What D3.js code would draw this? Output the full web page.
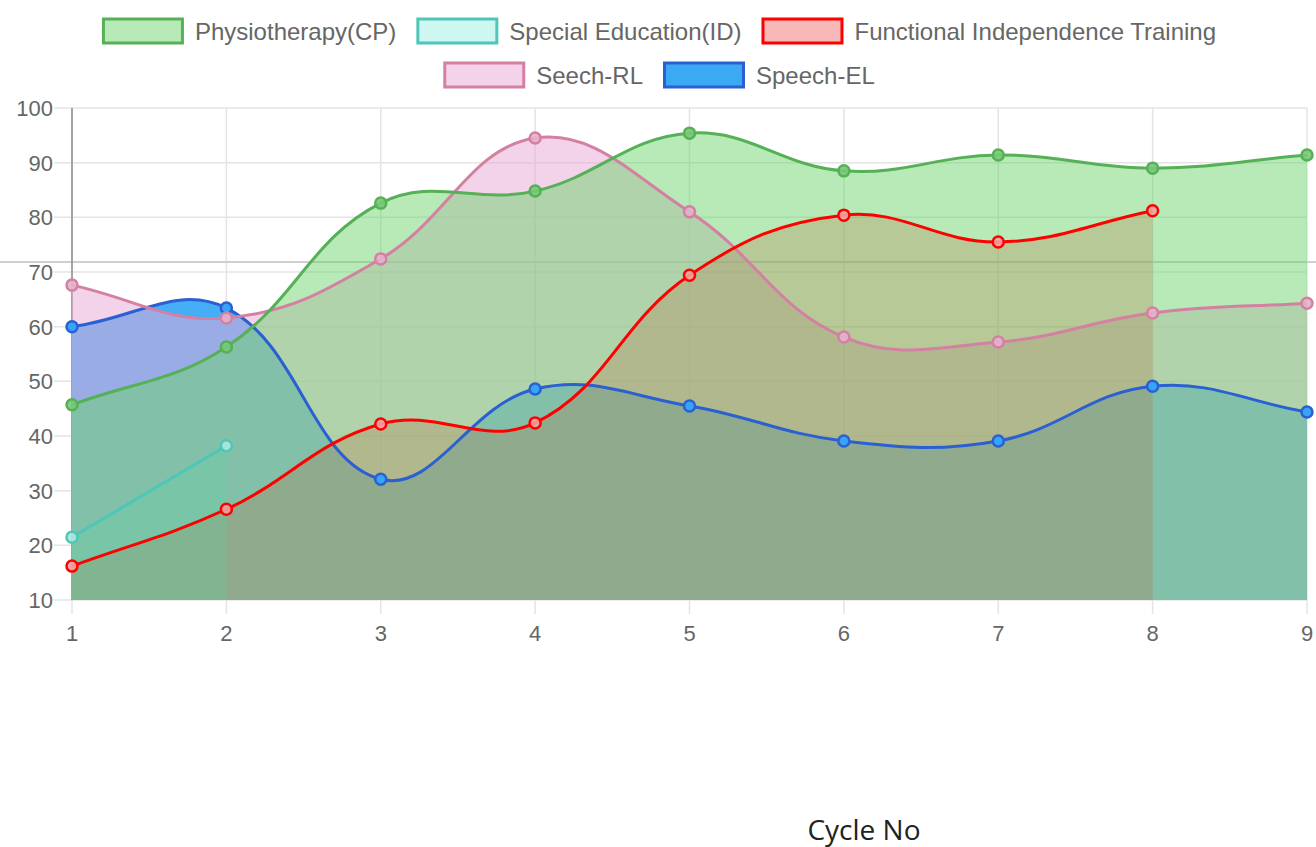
<!DOCTYPE html>
<html>
<head>
<meta charset="utf-8">
<script src="https://cdn.jsdelivr.net/npm/d3@7"></script>
<style>
	body { margin:0; background:#ffffff; }
	svg { display:block; }
</style>
</head>
<body>
<div id="Main_Part"></div>
<script>
// chart values
var CycleNo = [1,2,3,4,5,6,7,8,9];
var YTicks = [10,20,30,40,50,60,70,80,90,100];
var Physiotherapy = [45.7,56.3,82.6,84.8,95.4,88.5,91.4,89.0,91.4];
var SpecialEducation = [21.5,38.2];
var FunctionalTraining = [16.2,26.6,42.2,42.4,69.4,80.4,75.5,81.2];
var SeechRL = [67.6,61.6,72.4,94.5,81.0,58.1,57.2,62.5,64.3];
var SpeechEL = [60.0,63.4,32.1,48.6,45.5,39.1,39.1,49.1,44.4];
var SeriesNames = ["Physiotherapy(CP)","Special Education(ID)","Functional Independence Training","Seech-RL","Speech-EL"];

var Width = 1316, Height = 847;
var FontTick = 22, FontLegend = 24;
var TextGrey = "#666666";

var SeriesStyle = [
	{line:"rgb(86,176,86)", fill:"rgba(108,212,108,0.49)", box:"rgb(183,234,183)", point:"rgba(120,200,120,0.9)"},
	{line:"rgb(78,198,184)", fill:"rgba(64,224,208,0.25)", box:"rgb(206,247,242)", point:"rgba(170,232,222,0.9)"},
	{line:"rgb(255,0,0)", fill:"rgba(255,0,0,0.25)", box:"rgb(248,184,184)", point:"rgba(245,160,160,0.9)"},
	{line:"rgb(212,128,162)", fill:"rgba(232,170,215,0.52)", box:"rgb(243,210,234)", point:"rgba(228,176,205,0.9)"},
	{line:"rgb(42,96,210)", fill:"rgba(59,170,245,0.95)", box:"rgb(59,170,245)", point:"rgb(54,165,248)"}
];
var SeriesData = [Physiotherapy,SpecialEducation,FunctionalTraining,SeechRL,SpeechEL];

var X = d3.scaleLinear().domain([1,9]).range([72,1307]);
var Y = d3.scaleLinear().domain([10,100]).range([600,108]);

var Svg = d3.select('#Main_Part')
	.append("svg")
	.attr("width",Width)
	.attr("height",Height)
	.style("font-family","'Liberation Sans', Arial, sans-serif");

// Chart.js style spline (tension 0.4)
function SplinePath(Values, Closed)
{
	var Pts = Values.map(function(v,i){ return {x:X(CycleNo[i]), y:Y(v)}; });
	var T = 0.4;
	Pts.forEach(function(p,i){
		var prev = Pts[i-1] || p, next = Pts[i+1] || p;
		var d01 = Math.hypot(p.x-prev.x,p.y-prev.y);
		var d12 = Math.hypot(next.x-p.x,next.y-p.y);
		var s01 = d01/(d01+d12), s12 = d12/(d01+d12);
		if(isNaN(s01)) s01 = 0;
		if(isNaN(s12)) s12 = 0;
		var fa = T*s01, fb = T*s12;
		p.cpx0 = p.x - fa*(next.x-prev.x);
		p.cpy0 = Math.min(600,Math.max(108,p.y - fa*(next.y-prev.y)));
		p.cpx1 = p.x + fb*(next.x-prev.x);
		p.cpy1 = Math.min(600,Math.max(108,p.y + fb*(next.y-prev.y)));
	});
	var P = d3.path();
	P.moveTo(Pts[0].x,Pts[0].y);
	for(var i=1;i<Pts.length;i++)
	{
		P.bezierCurveTo(Pts[i-1].cpx1,Pts[i-1].cpy1,Pts[i].cpx0,Pts[i].cpy0,Pts[i].x,Pts[i].y);
	}
	if(Closed)
	{
		P.lineTo(Pts[Pts.length-1].x,Y(10));
		P.lineTo(Pts[0].x,Y(10));
		P.closePath();
	}
	return P.toString();
}

// grid
var Grid = Svg.append("g");
Grid.selectAll(".ygrid")
	.data(YTicks)
	.enter()
	.append("line")
	.attr("x1",54)
	.attr("x2",X(9))
	.attr("y1",function(d){ return Y(d); })
	.attr("y2",function(d){ return Y(d); })
	.style("stroke","#e4e4e4")
	.style("stroke-width",1.5);

Grid.selectAll(".xgrid")
	.data(CycleNo)
	.enter()
	.append("line")
	.attr("x1",function(d){ return X(d); })
	.attr("x2",function(d){ return X(d); })
	.attr("y1",Y(100))
	.attr("y2",614)
	.style("stroke","#e4e4e4")
	.style("stroke-width",1.5);

// hover crosshair left in the picture
Grid.append("line")
	.attr("x1",0).attr("x2",Width)
	.attr("y1",262).attr("y2",262)
	.style("stroke","#cfcfcf")
	.style("stroke-width",2);
Grid.append("line")
	.attr("x1",X(1)).attr("x2",X(1))
	.attr("y1",Y(100)).attr("y2",Y(10))
	.style("stroke","#8c8c8c")
	.style("stroke-width",1.5);

// tick labels
Svg.selectAll(".ylabel")
	.data(YTicks)
	.enter()
	.append("text")
	.attr("x",53)
	.attr("y",function(d){ return Y(d) + FontTick*0.36; })
	.attr("text-anchor","end")
	.text(function(d){ return d; })
	.style("font-size",FontTick+"px")
	.style("fill",TextGrey);

Svg.selectAll(".xlabel")
	.data(CycleNo)
	.enter()
	.append("text")
	.attr("x",function(d){ return X(d); })
	.attr("y",641)
	.attr("text-anchor","middle")
	.text(function(d){ return d; })
	.style("font-size",FontTick+"px")
	.style("fill",TextGrey);

// fills first, last dataset at the bottom
var Order = [4,3,2,1,0];
Order.forEach(function(k){
	Svg.append("path")
		.attr("d",SplinePath(SeriesData[k],true))
		.style("fill",SeriesStyle[k].fill)
		.style("stroke","none");
});

// lines and points
Order.forEach(function(k){
	Svg.append("path")
		.attr("d",SplinePath(SeriesData[k],false))
		.style("fill","none")
		.style("stroke",SeriesStyle[k].line)
		.style("stroke-width",3);
	Svg.selectAll(".pt"+k)
		.data(SeriesData[k])
		.enter()
		.append("circle")
		.attr("cx",function(d,i){ return X(CycleNo[i]); })
		.attr("cy",function(d){ return Y(d); })
		.attr("r",5.5)
		.style("fill",SeriesStyle[k].point)
		.style("stroke",SeriesStyle[k].line)
		.style("stroke-width",2.5);
});

// legend
var LegendRows = [[0,1,2],[3,4]];
var BoxW = 82, BoxH = 24, Gap = 11, ItemGap = 20;
LegendRows.forEach(function(Row,r){
	var RowY = 31 + r*44;
	var Items = Row.map(function(k){
		var Tmp = Svg.append("text").style("font-size",FontLegend+"px").text(SeriesNames[k]);
		var W = Tmp.node().getComputedTextLength();
		Tmp.remove();
		return {k:k, w:W};
	});
	var Total = d3.sum(Items,function(d){ return BoxW + Gap + d.w; }) + ItemGap*(Items.length-1);
	var Cx = 659 - Total/2;
	Items.forEach(function(It){
		Svg.append("rect")
			.attr("x",Cx+1.5)
			.attr("y",RowY-BoxH/2)
			.attr("width",BoxW-3)
			.attr("height",BoxH)
			.style("fill",SeriesStyle[It.k].box)
			.style("stroke",SeriesStyle[It.k].line)
			.style("stroke-width",3);
		Svg.append("text")
			.attr("x",Cx+BoxW+Gap)
			.attr("y",RowY+FontLegend*0.36)
			.text(SeriesNames[It.k])
			.style("font-size",FontLegend+"px")
			.style("fill",TextGrey);
		Cx += BoxW + Gap + It.w + ItemGap;
	});
});

// axis title
Svg.append("text")
	.attr("x",864)
	.attr("y",840)
	.attr("text-anchor","middle")
	.text("Cycle No")
	.style("font-family","'Open Sans', 'Noto Sans', sans-serif")
	.style("font-size","28px")
	.style("fill","#222222");
</script>
</body>
</html>
